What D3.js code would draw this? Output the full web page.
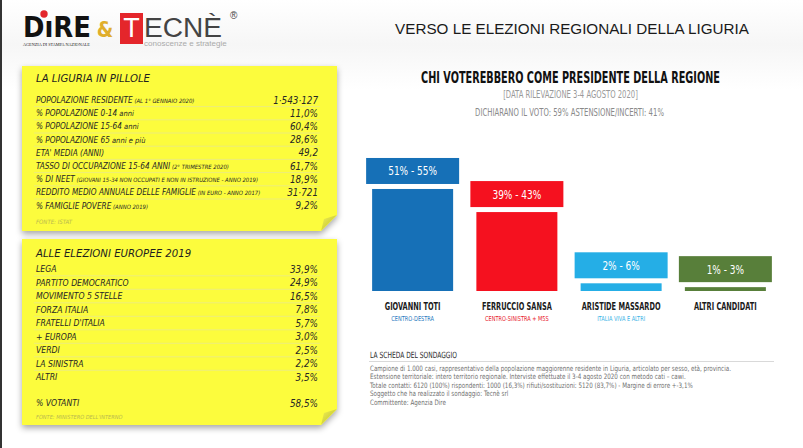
<!DOCTYPE html>
<html><head><meta charset="utf-8">
<script src="https://cdn.jsdelivr.net/npm/d3@7"></script>
<style>body{margin:0;background:#fff;} svg{display:block;}</style>
</head><body>
<script>
// ---------------- DATA ----------------
const candidates = ["GIOVANNI TOTI", "FERRUCCIO SANSA", "ARISTIDE MASSARDO", "ALTRI CANDIDATI"];
const coalitions = ["CENTRO-DESTRA", "CENTRO-SINISTRA + M5S", "ITALIA VIVA E ALTRI", ""];
const rangeLow = [51, 39, 2, 1];
const rangeHigh = [55, 43, 6, 3];

const pilloleLabels = ["POPOLAZIONE RESIDENTE", "% POPOLAZIONE 0-14", "%  POPOLAZIONE 15-64", "%  POPOLAZIONE 65",
  "ETA' MEDIA (ANNI)", "TASSO DI OCCUPAZIONE 15-64 ANNI", "% DI NEET", "REDDITO MEDIO ANNUALE DELLE FAMIGLIE", "% FAMIGLIE POVERE"];
const pilloleNotes = ["(AL 1° GENNAIO 2020)", "anni", "anni", "anni e più", "", "(2° TRIMESTRE 2020)",
  "(GIOVANI 15-34 NON OCCUPATI E NON IN ISTRUZIONE - ANNO 2019)", "(IN EURO - ANNO 2017)", "(ANNO 2019)"];
const pilloleValues = ["1·543·127", "11,0%", "60,4%", "28,6%", "49,2", "61,7%", "18,9%", "31·721", "9,2%"];

const europeeParties = ["LEGA", "PARTITO DEMOCRATICO", "MOVIMENTO 5 STELLE", "FORZA ITALIA", "FRATELLI D'ITALIA",
  "+ EUROPA", "VERDI", "LA SINISTRA", "ALTRI"];
const europeeValues = ["33,9%", "24,9%", "16,5%", "7,8%", "5,7%", "3,0%", "2,5%", "2,2%", "3,5%"];
const votantiLabel = "% VOTANTI";
const votantiValue = "58,5%";

const schedaLines = [
  "Campione di 1.000 casi, rappresentativo della popolazione maggiorenne residente in Liguria, articolato per sesso, età, provincia.",
  "Estensione territoriale: intero territorio regionale. Interviste effettuate il 3-4 agosto 2020 con metodo cati – cawi.",
  "Totale contatti: 6120 (100%) rispondenti: 1000 (16,3%) rifiuti/sostituzioni: 5120 (83,7%) - Margine di errore +-3,1%",
  "Soggetto che ha realizzato il sondaggio: Tecnè srl",
  "Committente: Agenzia Dire"
];

// ---------------- SETUP ----------------
const W = 803, H = 448;
const NARROW = "'Liberation Sans Narrow','DejaVu Sans Condensed',sans-serif";
const HAND = "'DejaVu Sans Condensed','DejaVu Sans',sans-serif";
const svg = d3.select("body").append("svg").attr("width", W).attr("height", H);
const defs = svg.append("defs");
const f = defs.append("filter").attr("id", "shadow").attr("x", "-10%").attr("y", "-10%").attr("width", "120%").attr("height", "125%");
f.append("feDropShadow").attr("dx", 0).attr("dy", 3).attr("stdDeviation", 3).attr("flood-color", "#000").attr("flood-opacity", 0.35);
const bgGrad = defs.append("linearGradient").attr("id", "bg").attr("x1", 0).attr("y1", 0).attr("x2", 0).attr("y2", 1);
bgGrad.append("stop").attr("offset", "0").attr("stop-color", "#ffffff");
bgGrad.append("stop").attr("offset", "0.1").attr("stop-color", "#f6f6f6");
bgGrad.append("stop").attr("offset", "0.2").attr("stop-color", "#ffffff");
bgGrad.append("stop").attr("offset", "1").attr("stop-color", "#ffffff");
const curlGrad = defs.append("linearGradient").attr("id", "curl").attr("x1", 0).attr("y1", 0).attr("x2", 1).attr("y2", 1);
curlGrad.append("stop").attr("offset", "0").attr("stop-color", "#f2f25a");
curlGrad.append("stop").attr("offset", "1").attr("stop-color", "#b8b820");

svg.append("rect").attr("width", W).attr("height", H).attr("fill", "url(#bg)");
svg.append("rect").attr("x", 0).attr("y", 0).attr("width", 2).attr("height", H).attr("fill", "#333");

function txt(parent, x, y, s, o) {
  const t = parent.append("text")
    .attr("transform", `translate(${x},${y}) scale(${o.sx || 1},${o.sy || 1})`)
    .attr("text-anchor", o.anchor || "start")
    .style("font-family", o.ff || NARROW)
    .style("font-size", o.size + "px")
    .style("font-weight", o.fw || "normal")
    .style("font-style", o.fs || "normal")
    .style("fill", o.fill || "#222")
    .text(s);
  if (o.tl) {
    const len = t.node().getComputedTextLength();
    if (len > 0) t.attr("transform", `translate(${x},${y}) scale(${o.tl / len},${o.sy || 1})`);
  }
  return t;
}

// ---------------- HEADER / LOGO ----------------
const logo = svg.append("g");
txt(logo, 23, 37, "DıRE", {size: 21, sy: 1.33, fw: "bold", fill: "#111", ff: "'DejaVu Sans',sans-serif", tl: 68});
logo.append("circle").attr("cx", 44).attr("cy", 14).attr("r", 3.7).attr("fill", "#e3262c");
txt(logo, 23, 45.5, "AGENZIA DI STAMPA NAZIONALE", {size: 4.3, fill: "#222", ff: "'Liberation Serif',serif", tl: 67});
txt(logo, 105, 37, "&", {size: 21, fw: "bold", fill: "#e0ae2c", anchor: "middle"});
logo.append("rect").attr("x", 120).attr("y", 13).attr("width", 23).attr("height", 31).attr("fill", "#e4262b");
txt(logo, 131.5, 37, "T", {size: 27, fill: "#fff", anchor: "middle", ff: "'Liberation Sans',sans-serif"});
txt(logo, 144, 37, "ECNÈ", {size: 20, sy: 1.35, fill: "#444", ff: "'Liberation Sans',sans-serif", tl: 78});
txt(logo, 230, 19, "®", {size: 10, fill: "#444", ff: "'Liberation Sans',sans-serif"});
txt(logo, 144, 46, "conoscenze e strategie", {size: 8, fill: "#aaa", ff: "'Liberation Sans',sans-serif", tl: 83});

txt(svg, 572, 33.5, "VERSO LE ELEZIONI REGIONALI DELLA LIGURIA", {size: 15.5, fill: "#1a1a1a", anchor: "middle", ff: "'Liberation Sans',sans-serif", tl: 354});

// ---------------- STICKY NOTES ----------------
function sticky(x0, y0, x1, y1) {
  const g = svg.append("g");
  const c = 16;
  g.append("path").attr("d", `M${x0},${y0}H${x1}V${y1 - c}L${x1 - c},${y1}H${x0}Z`)
    .attr("fill", "#fcfc3c").attr("filter", "url(#shadow)");
  g.append("path").attr("d", `M${x1},${y1 - c}L${x1 - c},${y1}L${x1 - c + 3},${y1 - c + 4}Z`)
    .attr("fill", "url(#curl)");
  return g;
}

const lineCol = "#e9e98a";
const labX = 36, valX = 318;

// Panel 1
const p1 = sticky(22, 66, 337, 231);
txt(p1, labX, 81.5, "LA LIGURIA IN PILLOLE", {ff: HAND, size: 11.3, fs: "italic", fill: "#1e1e1e"});
const y1 = d3.scaleLinear().domain([0, 1]).range([100, 113.2]);
pilloleLabels.forEach((l, i) => {
  const cy = y1(i);
  const t = txt(p1, labX, cy + 3, l, {ff: HAND, size: 8.2, fs: "italic", fill: "#262626"});
  if (pilloleNotes[i]) {
    const small = pilloleNotes[i].startsWith("(");
    t.append("tspan").text(" " + pilloleNotes[i]).style("font-size", small ? "5.9px" : "7.5px");
  }
  txt(p1, valX, cy + 3.5, pilloleValues[i], {ff: HAND, size: 9.8, fs: "italic", fill: "#262626", anchor: "end"});
  if (i < pilloleLabels.length - 1)
    p1.append("line").attr("x1", 34).attr("x2", 320).attr("y1", cy + 6.6).attr("y2", cy + 6.6).attr("stroke", lineCol).attr("stroke-width", 0.8);
});
txt(p1, labX, 224, "FONTE: ISTAT", {ff: HAND, size: 6, fs: "italic", fill: "#b9b950"});

// Panel 2
const p2 = sticky(22, 239, 337, 425);
txt(p2, labX, 257, "ALLE ELEZIONI EUROPEE 2019", {ff: HAND, size: 11.3, fs: "italic", fill: "#1e1e1e"});
const y2 = d3.scaleLinear().domain([0, 1]).range([269, 282.5]);
europeeParties.forEach((p, i) => {
  const cy = y2(i);
  txt(p2, labX, cy + 3, p, {ff: HAND, size: 8.6, fs: "italic", fill: "#262626"});
  txt(p2, valX, cy + 3.5, europeeValues[i], {ff: HAND, size: 9.8, fs: "italic", fill: "#262626", anchor: "end"});
  if (i < europeeParties.length - 1)
    p2.append("line").attr("x1", 34).attr("x2", 320).attr("y1", cy + 6.8).attr("y2", cy + 6.8).attr("stroke", lineCol).attr("stroke-width", 0.8);
});
txt(p2, labX, 406, votantiLabel, {ff: HAND, size: 8.6, fs: "italic", fill: "#262626"});
txt(p2, valX, 406.5, votantiValue, {ff: HAND, size: 9.8, fs: "italic", fill: "#262626", anchor: "end"});
txt(p2, labX, 419, "FONTE: MINISTERO DELL'INTERNO", {ff: HAND, size: 5.6, fs: "italic", fill: "#b9b950"});

// ---------------- BAR CHART ----------------
const cx = 570.5;
txt(svg, cx, 83, "CHI VOTEREBBERO COME PRESIDENTE DELLA REGIONE", {size: 16.5, fw: "bold", fill: "#111", anchor: "middle", tl: 299});
txt(svg, cx, 97.5, "[DATA RILEVAZIONE 3-4 AGOSTO 2020]", {size: 10.5, fill: "#999", anchor: "middle", tl: 135});
txt(svg, 569.5, 115.5, "DICHIARANO IL VOTO: 59% ASTENSIONE/INCERTI: 41%", {size: 10, fill: "#8a8a8a", anchor: "middle", tl: 189});

const colors = ["#1670b7", "#f5111f", "#25aee6", "#587f3a"];
const subColors = ["#2a79c0", "#e8232e", "#3bb3e6", "#587f3a"];
const data = candidates.map((c, i) => ({name: c, coal: coalitions[i], lo: rangeLow[i], hi: rangeHigh[i], mid: (rangeLow[i] + rangeHigh[i]) / 2, col: colors[i], sub: subColors[i]}));

const x = d3.scaleBand().domain(candidates).range([360.5, 777.5]).paddingInner(0.223).paddingOuter(0.1115);
const y = d3.scaleLinear().domain([0, 60]).range([291, 175.5]);

const bars = svg.append("g").selectAll("g").data(data).join("g");
bars.append("rect")
  .attr("x", d => x(d.name)).attr("width", x.bandwidth())
  .attr("y", d => y(d.mid)).attr("height", d => y(0) - y(d.mid))
  .attr("fill", d => d.col);
bars.append("rect")
  .attr("x", d => x(d.name) - 6).attr("width", x.bandwidth() + 12)
  .attr("y", d => y(d.mid) - 31).attr("height", 26)
  .attr("fill", d => d.col);
bars.each(function(d) {
  const g = d3.select(this);
  const xc = x(d.name) + x.bandwidth() / 2;
  txt(g, xc, y(d.mid) - 13.5, `${d.lo}% - ${d.hi}%`, {size: 12.5, fill: "#fff", anchor: "middle", sx: 0.8});
  txt(g, xc, 310, d.name, {size: 10.8, fw: "bold", fill: "#1a1a1a", anchor: "middle", sx: 0.68});
  if (d.coal) txt(g, xc, 320.5, d.coal, {size: 6.8, fill: d.sub, anchor: "middle", sx: 0.82});
});

// ---------------- SCHEDA ----------------
txt(svg, 370, 358, "LA SCHEDA DEL SONDAGGIO", {size: 8.6, fill: "#2a2a2a", tl: 87});
svg.append("line").attr("x1", 369).attr("x2", 774).attr("y1", 361.5).attr("y2", 361.5).attr("stroke", "#cfcfcf").attr("stroke-width", 0.8);
const ys = d3.scaleLinear().domain([0, 1]).range([370.5, 379]);
schedaLines.forEach((l, i) => {
  txt(svg, 370, ys(i), l, {size: 7.4, fill: "#707070", sx: 0.84});
});
</script>
</body></html>
